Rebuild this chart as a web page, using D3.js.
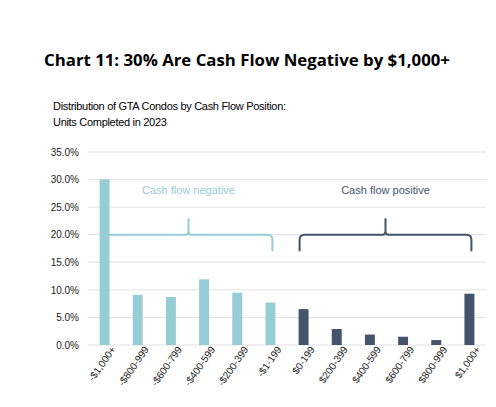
<!DOCTYPE html>
<html><head><meta charset="utf-8">
<script src="https://cdn.jsdelivr.net/npm/d3@7"></script>
<style>body{margin:0;background:#fff}</style>
</head><body><svg id="c" width="496" height="407"></svg>
<script>
const categories = ['-$1,000+','-$800-999','-$600-799','-$400-599','-$200-399','-$1-199',
  '$0-199','$200-399','$400-599','$600-799','$800-999','$1,000+'];
const values = [30.0, 9.1, 8.7, 11.9, 9.5, 7.7, 6.5, 2.9, 1.9, 1.5, 0.9, 9.3];
const yTicks = [0, 5, 10, 15, 20, 25, 30, 35];
const groups = [
  {label: 'Cash flow negative', from: 0, to: 5, color: '#96CDD5'},
  {label: 'Cash flow positive', from: 6, to: 11, color: '#44546A'}
];

const svg = d3.select('#c');
const font = '"Liberation Sans", Arial, sans-serif';

svg.append('text').attr('x', 247).attr('y', 66).attr('text-anchor', 'middle')
  .style('font-family', '"Open Sans", sans-serif').style('font-weight', 700).style('font-size', '16.8px')
  .text('Chart 11: 30% Are Cash Flow Negative by $1,000+');
svg.append('text').attr('x', 53).attr('y', 110).style('font-family', font).style('font-size', '11px')
  .style('letter-spacing', '-0.3px').text('Distribution of GTA Condos by Cash Flow Position:');
svg.append('text').attr('x', 53).attr('y', 126).style('font-family', font).style('font-size', '11px')
  .style('letter-spacing', '-0.3px').text('Units Completed in 2023');

const x = d3.scaleBand().domain(categories).range([88, 486]).paddingInner(0.7).paddingOuter(0.35);
const y = d3.scaleLinear().domain([0, 35]).range([345, 152]);

// grid
svg.append('g').selectAll('line').data(yTicks).enter().append('line')
  .attr('x1', 88).attr('x2', 486).attr('y1', d => y(d)).attr('y2', d => y(d))
  .attr('stroke', '#d9d9d9').attr('stroke-width', 0.8);

const yAxis = svg.append('g').attr('transform', 'translate(82,0)')
  .call(d3.axisLeft(y).tickValues(yTicks).tickSize(0).tickFormat(d => d.toFixed(1) + '%'));
yAxis.select('.domain').remove();
yAxis.selectAll('text').style('font-family', font).style('font-size', '10px').attr('fill', '#222');

// bars
svg.append('g').selectAll('rect').data(values).enter().append('rect')
  .attr('x', (d, i) => x(categories[i])).attr('width', x.bandwidth())
  .attr('y', d => y(d)).attr('height', d => y(0) - y(d))
  .attr('fill', (d, i) => i < 6 ? groups[0].color : groups[1].color);

// x labels
const xAxis = svg.append('g').attr('transform', `translate(0,${y(0)})`)
  .call(d3.axisBottom(x).tickSize(0));
xAxis.select('.domain').remove();
xAxis.selectAll('text').style('font-family', font).style('font-size', '10px').attr('fill', '#222')
  .attr('text-anchor', 'end').attr('dx', '3').attr('dy', '9')
  .attr('transform', 'rotate(-55)');

// braces
groups.forEach((g, gi) => {
  const x0 = x(categories[g.from]) + x.bandwidth() / 2 + (gi ? -4 : 0);
  const x1 = x(categories[g.to]) + x.bandwidth() / 2 + 2;
  const xm = (x0 + x1) / 2;
  const yb = y(20), ye = y(17), yt = y(23), r = 5;
  const p = `M${x0},${ye} L${x0},${yb + r} Q${x0},${yb} ${x0 + r},${yb} L${xm - 3},${yb} Q${xm},${yb} ${xm},${yb - 4} L${xm},${yt}`
    + ` M${xm},${yb - 4} Q${xm},${yb} ${xm + 3},${yb} L${x1 - r},${yb} Q${x1},${yb} ${x1},${yb + r} L${x1},${ye}`;
  svg.append('path').attr('d', p).attr('fill', 'none').attr('stroke', g.color).attr('stroke-width', 2);
  svg.append('text').attr('x', xm).attr('y', y(27.3)).attr('text-anchor', 'middle')
    .style('font-family', font).style('font-size', '11px').attr('fill', g.color).text(g.label);
});
</script></body></html>
